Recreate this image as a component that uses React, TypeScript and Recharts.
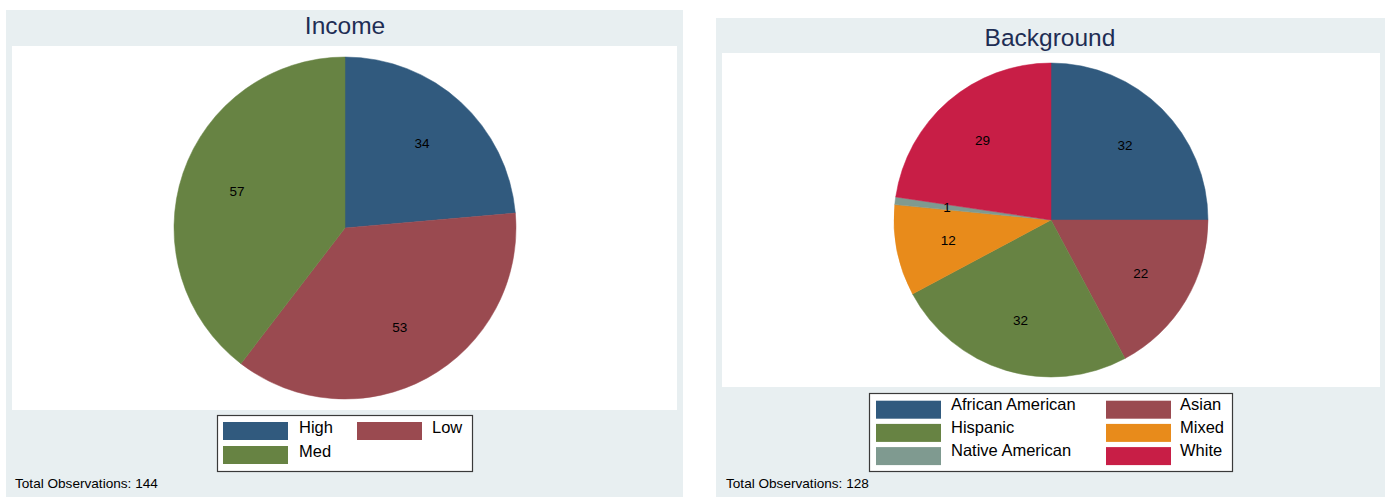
import React from 'react';
import { PieChart, Pie, Cell } from 'recharts';

const incomeCategories = ['High', 'Low', 'Med'];
const incomeValues = [34, 53, 57];
const incomeColors = ['#315A7E', '#9A4A50', '#678343'];

const backgroundCategories = ['African American', 'Asian', 'Hispanic', 'Mixed', 'Native American', 'White'];
const backgroundValues = [32, 22, 32, 12, 1, 29];
const backgroundColors = ['#315A7E', '#9A4A50', '#678343', '#E88B1B', '#7F9A90', '#C81E46'];

const FONT = '"Liberation Sans", Arial, Helvetica, sans-serif';
const RAD = Math.PI / 180;

type PanelCfg = {
  title: string;
  categories: string[];
  values: number[];
  colors: string[];
  panel: { x: number; y: number; w: number; h: number };
  plot: { x: number; y: number; w: number; h: number };
  center: { x: number; y: number };
  radius: number;
  titleBaseline: number;
  titleX: number;
  legend: { x: number; y: number; w: number; h: number; swX: number[]; txX: number[]; row0: number; rowStep: number; textDy: number };
  footerX: number;
  footerBaseline: number;
};

const panels: PanelCfg[] = [
  {
    title: 'Income',
    categories: incomeCategories,
    values: incomeValues,
    colors: incomeColors,
    panel: { x: 6, y: 10, w: 677, h: 487 },
    plot: { x: 12, y: 46, w: 665, h: 364 },
    center: { x: 345, y: 228 },
    radius: 171,
    titleBaseline: 34,
    titleX: 345,
    legend: { x: 217, y: 415, w: 255, h: 56, swX: [6, 140], txX: [82, 215], row0: 7, rowStep: 24, textDy: 11.3 },
    footerX: 15,
    footerBaseline: 488,
  },
  {
    title: 'Background',
    categories: backgroundCategories,
    values: backgroundValues,
    colors: backgroundColors,
    panel: { x: 716, y: 18, w: 669, h: 479 },
    plot: { x: 722, y: 53, w: 658, h: 334 },
    center: { x: 1051, y: 220 },
    radius: 157,
    titleBaseline: 46,
    titleX: 1050,
    legend: { x: 869, y: 393, w: 363, h: 78, swX: [7, 237], txX: [82, 311], row0: 7.7, rowStep: 23.2, textDy: 9 },
    footerX: 726,
    footerBaseline: 488,
  },
];

const renderLabel = (props: any) => {
  const { cx, cy, midAngle, outerRadius, value } = props;
  const r = (outerRadius * 2) / 3;
  const x = cx + r * Math.cos(-midAngle * RAD);
  const y = cy + r * Math.sin(-midAngle * RAD);
  return (
    <text x={x} y={y} fill="#000" fontSize={13.5} fontFamily={FONT} textAnchor="middle" dominantBaseline="central">
      {value}
    </text>
  );
};

function Panel({ cfg }: { cfg: PanelCfg }) {
  const data = cfg.categories.map((name, i) => ({ name, value: cfg.values[i] }));
  const total = cfg.values.reduce((a, b) => a + b, 0);
  const L = cfg.legend;
  return (
    <>
      <div style={{ position: 'absolute', left: cfg.panel.x, top: cfg.panel.y, width: cfg.panel.w, height: cfg.panel.h, background: '#E8EFF1' }} />
      <div style={{ position: 'absolute', left: cfg.plot.x, top: cfg.plot.y, width: cfg.plot.w, height: cfg.plot.h, background: '#FFFFFF' }}>
        <PieChart width={cfg.plot.w} height={cfg.plot.h} margin={{ top: 0, right: 0, bottom: 0, left: 0 }}>
          <Pie
            data={data}
            dataKey="value"
            nameKey="name"
            cx={cfg.center.x - cfg.plot.x}
            cy={cfg.center.y - cfg.plot.y}
            outerRadius={cfg.radius}
            innerRadius={0}
            startAngle={90}
            endAngle={-270}
            paddingAngle={0}
            label={renderLabel}
            labelLine={false}
            isAnimationActive={false}
          >
            {data.map((d, i) => (
              <Cell key={d.name} fill={cfg.colors[i]} stroke={cfg.colors[i]} strokeWidth={0.5} />
            ))}
          </Pie>
        </PieChart>
      </div>
      <svg style={{ position: 'absolute', left: 0, top: 0, pointerEvents: 'none' }} width={1391} height={498}>
        <text x={cfg.titleX} y={cfg.titleBaseline} textAnchor="middle" fontFamily={FONT} fontSize={24.5} fill="#1E2D54">
          {cfg.title}
        </text>
        <rect x={L.x + 0.5} y={L.y + 0.5} width={L.w} height={L.h} fill="#FFFFFF" stroke="#3a3a3a" strokeWidth={1.2} />
        {cfg.categories.map((name, i) => {
          const col = i % 2;
          const row = Math.floor(i / 2);
          const sy = L.y + L.row0 + row * L.rowStep;
          return (
            <g key={name}>
              <rect x={L.x + L.swX[col]} y={sy} width={65} height={18} fill={cfg.colors[i]} />
              <text x={L.x + L.txX[col]} y={sy + L.textDy} fontFamily={FONT} fontSize={16.5} fill="#000">
                {name}
              </text>
            </g>
          );
        })}
        <text x={cfg.footerX} y={cfg.footerBaseline} fontFamily={FONT} fontSize={13.6} fill="#000">
          {`Total Observations: ${total}`}
        </text>
      </svg>
    </>
  );
}

export default function App() {
  return (
    <div style={{ position: 'absolute', left: 0, top: 0, width: 1391, height: 498, background: '#FFFFFF', overflow: 'hidden' }}>
      {panels.map((p) => (
        <Panel key={p.title} cfg={p} />
      ))}
    </div>
  );
}
